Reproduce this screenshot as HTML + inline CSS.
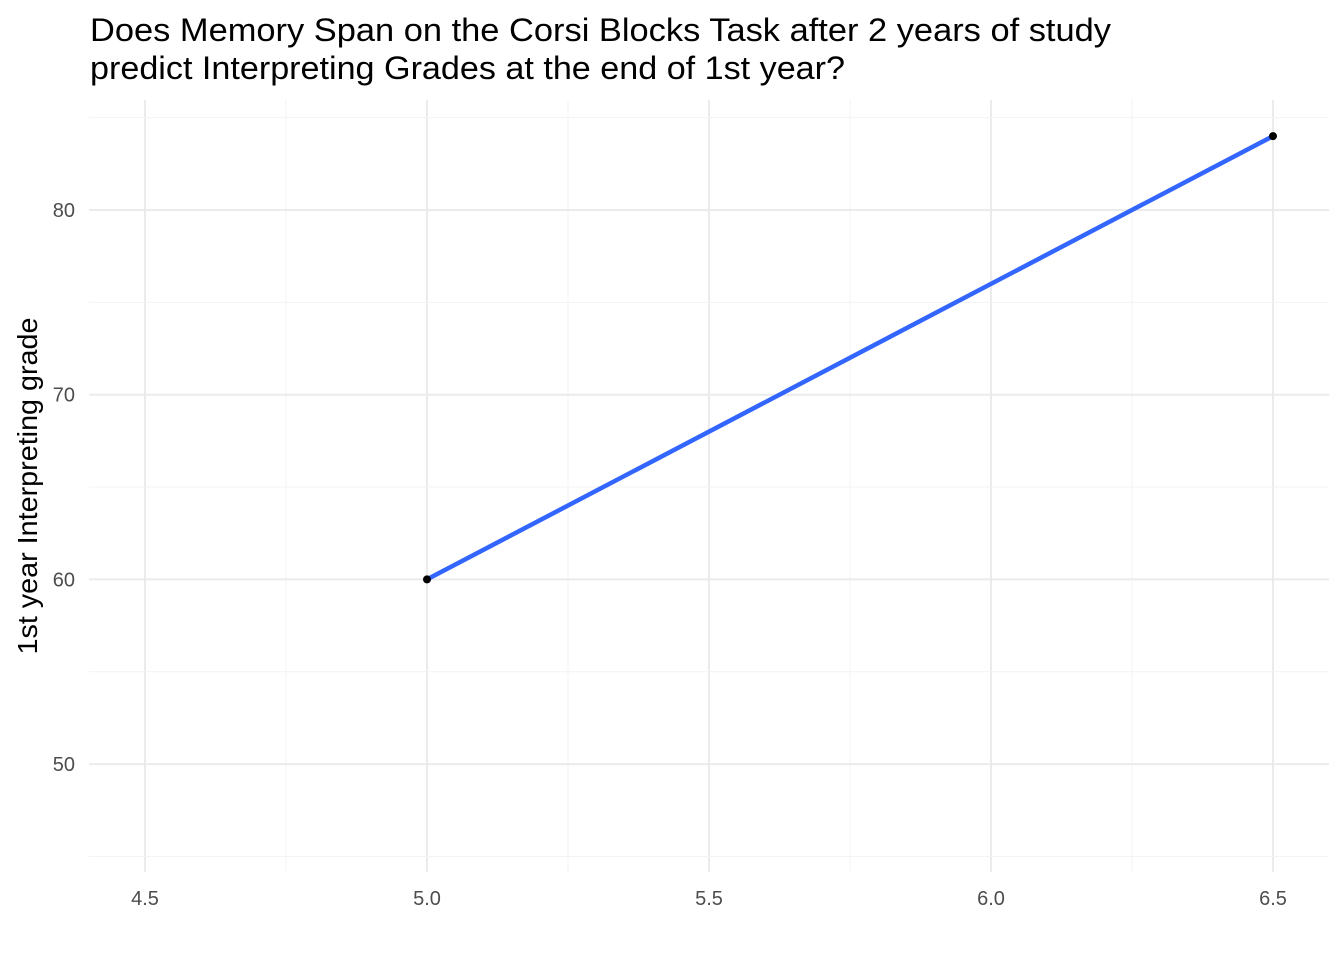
<!DOCTYPE html>
<html><head><meta charset="utf-8"><style>
body{margin:0;background:#fff;font-family:"Liberation Sans",Arial,sans-serif}
</style></head><body>
<svg width="1344" height="960" xmlns="http://www.w3.org/2000/svg">
<text x="90" y="41" font-size="32" textLength="1021" lengthAdjust="spacingAndGlyphs" fill="#000">Does Memory Span on the Corsi Blocks Task after 2 years of study</text>
<text x="90" y="79" font-size="32" textLength="755" lengthAdjust="spacingAndGlyphs" fill="#000">predict Interpreting Grades at the end of 1st year?</text>
<text transform="translate(37,486) rotate(-90)" text-anchor="middle" font-size="28" textLength="337" lengthAdjust="spacingAndGlyphs" fill="#000">1st year Interpreting grade</text>
<g id="grid"></g><g id="marks"></g>
</svg>
<script>
const xTicks=[4.5,5.0,5.5,6.0,6.5];
const xTickLabels=["4.5","5.0","5.5","6.0","6.5"];
const yTicks=[50,60,70,80];
const yTickLabels=["50","60","70","80"];
const xs=[5.0,6.5];
const ys=[60,84];
const NS="http://www.w3.org/2000/svg";
const X=v=>145+(v-4.5)*564;
const Y=v=>210+(80-v)*18.47;
const L=89,R=1329,T=100,B=872;
const grid=document.getElementById('grid'),marks=document.getElementById('marks');
function mk(tag,at,p){const e=document.createElementNS(NS,tag);for(const k in at)e.setAttribute(k,at[k]);p.appendChild(e);return e;}
for(let i=0;i<xTicks.length;i++){
  const v=xTicks[i];
  const g=mk('line',{x1:X(v),x2:X(v),y1:T,y2:B,stroke:'#ebebeb','stroke-width':2},grid);
  
  
  if(i<xTicks.length-1){const m=mk('line',{x1:X(v+0.25),x2:X(v+0.25),y1:T,y2:B,stroke:'#f3f3f3','stroke-width':1},grid);
  
  }
  const t=mk('text',{x:X(v),y:905,'text-anchor':'middle','font-size':20,fill:'#4d4d4d'},grid);
  t.textContent=xTickLabels[i];
  
  
}
for(let i=0;i<yTicks.length;i++){
  const v=yTicks[i];
  const g=mk('line',{x1:L,x2:R,y1:Y(v),y2:Y(v),stroke:'#ebebeb','stroke-width':2},grid);
  
  
  const t=mk('text',{x:75,y:Y(v)+7,'text-anchor':'end','font-size':20,fill:'#4d4d4d'},grid);
  t.textContent=yTickLabels[i];
  
  
}
for(const v of [45,55,65,75,85]){
  const m=mk('line',{x1:L,x2:R,y1:Y(v),y2:Y(v),stroke:'#f3f3f3','stroke-width':1},grid);
  
  
}
const ln=mk('polyline',{points:xs.map((x,i)=>X(x)+','+Y(ys[i])).join(' '),fill:'none',stroke:'#3366ff','stroke-width':4.5},marks);


for(let i=0;i<xs.length;i++){
  const c=mk('circle',{cx:X(xs[i]),cy:Y(ys[i]),r:4,fill:'#000'},marks);
  
  
}
</script>
</body></html>
